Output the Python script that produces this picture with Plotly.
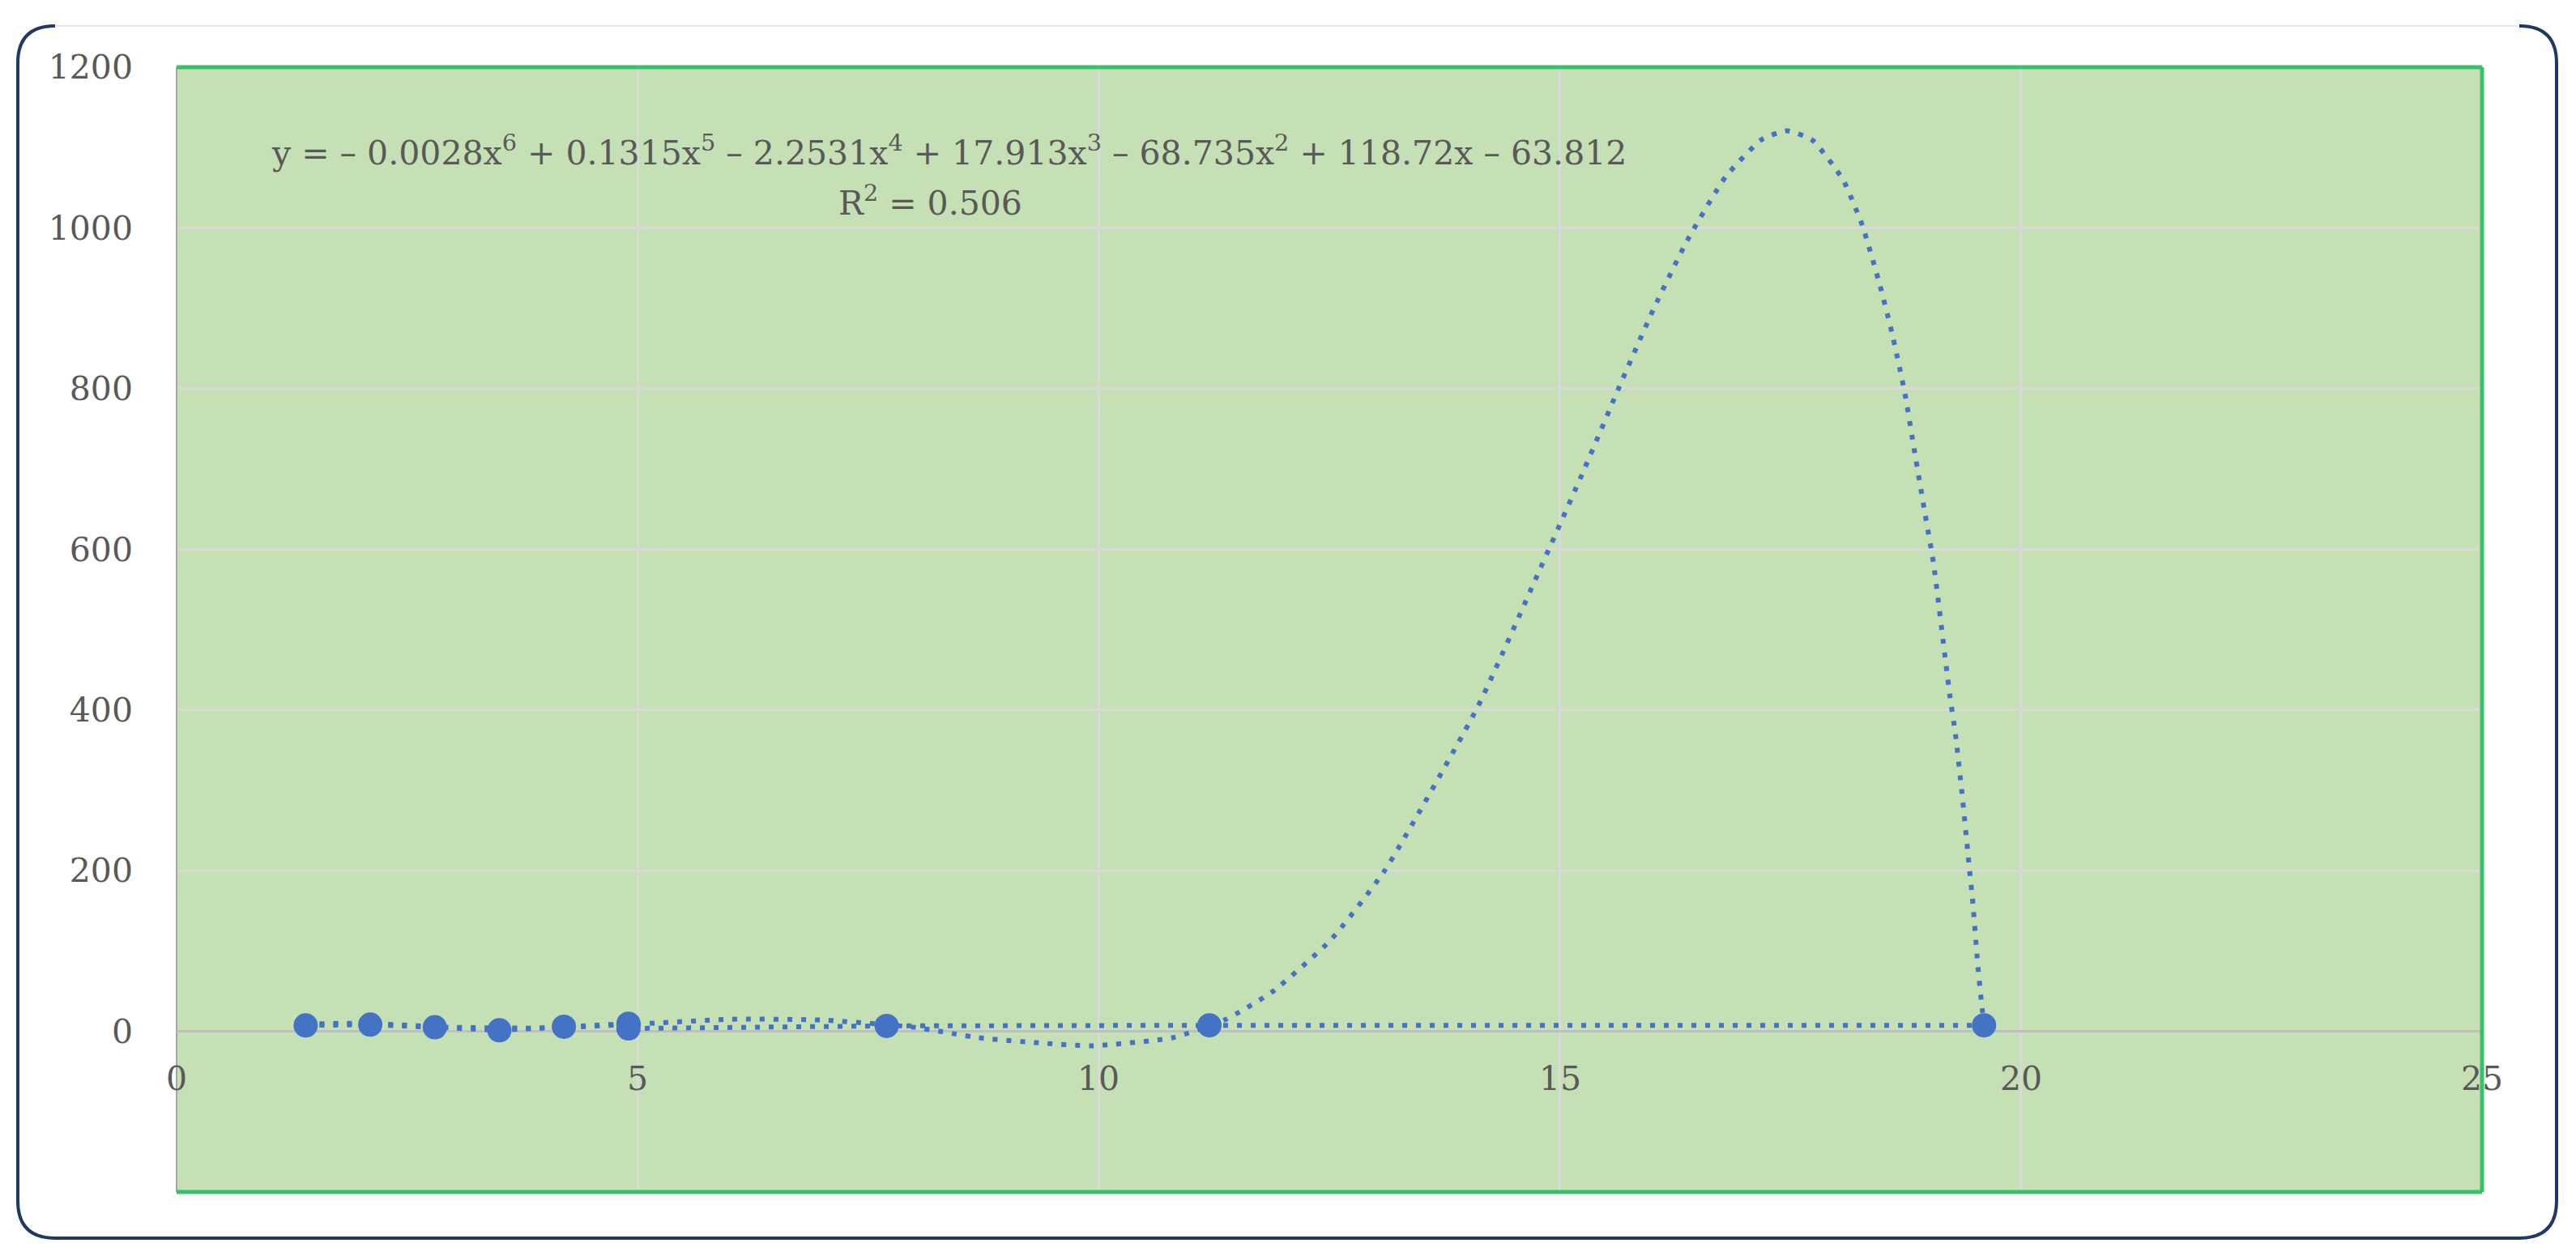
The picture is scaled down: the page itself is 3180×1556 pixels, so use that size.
import plotly.graph_objects as go

# data points
x_data = [1.4, 2.1, 2.8, 3.5, 4.2, 4.9, 4.9, 7.7, 11.2, 19.6]
y_data = [7.3, 8.3, 5.0, 1.3, 5.7, 9.5, 3.5, 6.7, 7.5, 7.5]

# 6th order polynomial trendline
trend_x = [1.4, 2.0, 3.0, 4.0, 5.0, 6.0, 7.0, 8.0, 8.7, 9.3, 9.93, 10.8, 11.38, 11.88,
           12.51, 13.1, 14.11, 14.78, 15.27, 15.64, 16.02, 16.38, 16.8, 17.19, 17.46,
           17.74, 18.07, 18.28, 18.47, 18.6, 18.74, 18.85, 18.96, 19.05, 19.23, 19.29,
           19.36, 19.44, 19.48, 19.53, 19.57, 19.6]
trend_y = [9, 10, 5, 4, 9, 15, 14, 5, -8, -14, -18, -8, 15, 49,
           113, 200, 404, 574, 701, 801, 900, 984, 1064, 1110, 1121,
           1109, 1060, 1003, 929, 870, 795, 719, 644, 584, 417, 370,
           297, 204, 158, 85, 38, 8]

y_ticks = [0, 200, 400, 600, 800, 1000, 1200]
x_ticks = [0, 5, 10, 15, 20, 25]

eq_text = ("y = – 0.0028x<sup>6</sup> + 0.1315x<sup>5</sup> – 2.2531x<sup>4</sup> + "
           "17.913x<sup>3</sup> – 68.735x<sup>2</sup> + 118.72x – 63.812")
r2_text = "R<sup>2</sup> = 0.506"

BLUE = "#4472c4"
PLOT_BG = "#c5e0b4"
GREEN = "#3cbf6c"
NAVY = "#1f3864"
TEXT = "#595959"
FONT = "DejaVu Serif, serif"

# page is 3180x1556, the body keeps its default 8px margin
OFF = 8
W, H = 3180 - 2 * OFF, 1556 - 2 * OFF
# plot area in page pixels: left 218, right 3064, top 83, bottom 1472
ML, MT = 218 - OFF, 83 - OFF
MR, MB = W - (3064 - OFF), H - (1472 - OFF)


def to_paper(xp, yp):
    xf, yf = xp - OFF, yp - OFF
    return (xf - ML) / (W - ML - MR), (H - MB - yf) / (H - MT - MB)


fig = go.Figure()

fig.add_trace(go.Scatter(
    x=trend_x, y=trend_y, mode="lines",
    line={"color": BLUE, "width": 6, "dash": "6px,11px", "shape": "spline", "smoothing": 0.5},
    hoverinfo="skip", showlegend=False,
))

fig.add_trace(go.Scatter(
    x=x_data, y=y_data, mode="lines+markers",
    line={"color": BLUE, "width": 6, "dash": "6px,11px"},
    marker={"color": BLUE, "size": 30},
    showlegend=False,
))

# x tick labels sit just under the zero line, as in Excel
for v in x_ticks:
    fig.add_annotation(x=v, y=0, text=str(v), showarrow=False, yanchor="top",
                       yshift=-32, font={"size": 41, "color": TEXT, "family": FONT})

fig.add_annotation(x=8.38, y=1096, text=eq_text, showarrow=False,
                   font={"size": 41, "color": TEXT, "family": FONT})
fig.add_annotation(x=8.17, y=1034, text=r2_text, showarrow=False,
                   font={"size": 41, "color": TEXT, "family": FONT})

# plot area border (green on top/right/bottom)
shapes = []
for x0, y0, x1, y1 in [(0, 1, 1, 1), (1, 0, 1, 1), (0, 0, 1, 0)]:
    shapes.append({"type": "line", "xref": "paper", "yref": "paper",
                   "x0": x0, "y0": y0, "x1": x1, "y1": y1,
                   "line": {"color": GREEN, "width": 5}})

# outer rounded frame
left, right, top, bottom, r = 22, 3156, 32, 1529, 46
pts = [
    ("M", [(left + r, top)]),
    ("Q", [(left, top), (left, top + r)]),
    ("L", [(left, bottom - r)]),
    ("Q", [(left, bottom), (left + r, bottom)]),
    ("L", [(right - r, bottom)]),
    ("Q", [(right, bottom), (right, bottom - r)]),
    ("L", [(right, top + r)]),
    ("Q", [(right, top), (right - r, top)]),
]
path = ""
for cmd, ps in pts:
    path += cmd + " " + " ".join("%.5f,%.5f" % to_paper(a, b) for a, b in ps) + " "
shapes.append({"type": "path", "xref": "paper", "yref": "paper", "path": path.strip(),
               "line": {"color": NAVY, "width": 4}})
tx0, ty = to_paper(left + r, top)
tx1, _ = to_paper(right - r, top)
shapes.append({"type": "line", "xref": "paper", "yref": "paper",
               "x0": tx0, "y0": ty, "x1": tx1, "y1": ty,
               "line": {"color": "#e6e6e6", "width": 2}})

fig.update_layout(
    width=W, height=H,
    margin={"l": ML, "r": MR, "t": MT, "b": MB, "autoexpand": False},
    plot_bgcolor=PLOT_BG,
    paper_bgcolor="white",
    font={"family": FONT, "color": TEXT, "size": 41},
    shapes=shapes,
    xaxis={
        "range": [0, 25], "tickvals": x_ticks, "showticklabels": False,
        "showgrid": True, "gridcolor": "#d9d9d9", "gridwidth": 2.5,
        "zeroline": True, "zerolinecolor": "#a6a6a6", "zerolinewidth": 2,
        "showline": False,
    },
    yaxis={
        "range": [-200, 1200], "tickvals": y_ticks,
        "showgrid": True, "gridcolor": "#d9d9d9", "gridwidth": 2.5,
        "zeroline": True, "zerolinecolor": "#bfbfbf", "zerolinewidth": 3,
        "showline": False, "ticklabelstandoff": 53,
        "tickfont": {"size": 41, "color": TEXT, "family": FONT},
    },
)

fig.write_html("out.html")
